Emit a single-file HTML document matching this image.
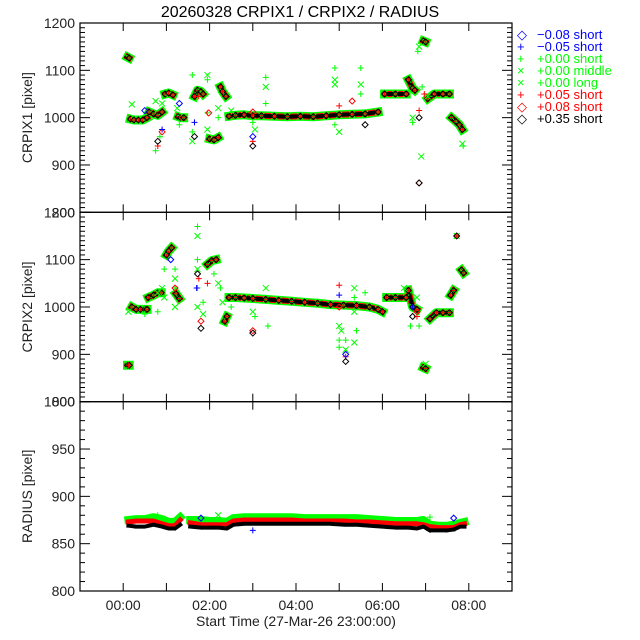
<!DOCTYPE html>
<html><head><meta charset="utf-8"><style>
html,body{margin:0;padding:0;background:#fff;}
svg{display:block;font-family:"Liberation Sans",sans-serif;}
</style></head><body>
<svg id="chart" width="640" height="640" viewBox="0 0 640 640">
<text x="300" y="17" font-size="16" text-anchor="middle">20260328 CRPIX1 / CRPIX2 / RADIUS</text>
<g id="legend"></g>
<g id="plots"></g>
</svg>
<script>
// ---- data ----
const xTickHours = [0,1,2,3,4,5,6,7,8];
const xTickLabels = ["00:00","","02:00","","04:00","","06:00","","08:00"];

const t1 = [0.10,0.14,null,0.17,0.25,0.35,0.45,0.55,null,0.6,0.7,0.8,0.9,null,0.97,1.05,1.15,null,1.27,1.33,1.4,null,1.65,1.72,1.8,1.85,null,2.0,2.1,2.2,null,2.25,2.3,2.38,null,2.45,2.6,2.8,3.0,3.2,3.5,3.8,4.1,4.4,4.7,5.0,5.3,5.6,5.9,null,6.05,6.3,6.55,null,6.6,6.7,6.75,null,6.95,7.0,null,7.05,7.2,7.4,7.55,null,7.6,7.7,7.78,7.85];
const v1 = [1128,1126,null,997,995,995,995,1000,null,1012,1008,1005,1012,null,1050,1052,1048,null,1002,1000,1000,null,1045,1058,1055,1050,null,955,953,958,null,1065,1055,1045,null,1003,1005,1006,1004,1004,1003,1002,1003,1002,1004,1006,1007,1008,1012,null,1050,1050,1050,null,1080,1062,1058,null,1162,1160,null,1040,1050,1050,1050,null,1000,992,985,975];
const o1t = [0.2,0.75,0.75,0.85,0.9,1.3,1.25,1.6,1.6,1.6,1.95,1.95,1.95,1.95,2.2,2.2,2.5,3.0,3.05,3.3,3.3,3.3,4.9,4.9,4.9,4.9,5.0,5.5,5.5,5.5,6.7,6.7,6.9,6.92,7.85,7.87,7.05,6.82,6.85, 0.8,0.9,1.75,1.98,3.0,3.0,5.0,5.3,6.85,6.85,6.97, 0.8,1.65,3.0,5.6,6.85,6.85, 0.5,0.9,1.3,1.65,3.0];
const o1v = [1028,930,1035,960,1030,985,1020,1090,950,970,1090,1080,975,1010,1020,1000,1015,990,975,1085,1065,1030,1070,1105,1080,985,970,1105,1070,1050,1000,990,918,1065,945,940,1045,1140,1150, 940,970,1045,1010,950,1012,1025,1035,1015,862,1050, 950,960,940,985,1000,862, 1015,975,1030,990,960];
const o1c = "gggggggggggggggggggggggggggggggggggggggrrrrrrrrrrrkkkkkkbbbbb";

const t2 = [0.1,0.14,null,0.2,0.3,0.4,0.5,0.55,null,0.58,0.7,0.8,0.88,null,1.0,1.05,1.12,null,1.22,1.3,null,1.95,2.05,2.15,null,2.35,2.4,null,2.45,2.6,2.8,3.0,3.3,3.6,3.9,4.2,4.5,4.8,5.1,5.4,5.7,5.9,6.0,null,6.1,6.3,6.55,null,6.6,6.7,6.8,null,6.95,7.0,null,7.1,7.25,7.4,7.55,null,7.58,7.65,null,7.72,null,7.83,7.88];
const v2 = [877,877,null,1000,995,995,995,995,null,1020,1025,1030,1030,null,1110,1118,1125,null,1028,1018,null,1090,1098,1100,null,970,980,null,1020,1020,1019,1018,1016,1014,1012,1010,1008,1005,1004,1003,1000,995,990,null,1020,1020,1020,null,1035,1000,995,null,872,870,null,975,988,988,988,null,1025,1035,null,1150,null,1078,1072];
const o2t = [0.12,0.5,0.8,0.8,0.9,0.95,0.95,1.2,1.2,1.2,1.2,1.72,1.72,1.72,1.72,1.72,1.72,1.85,1.85,2.1,2.2,2.25,2.3,2.5,3.0,3.05,3.3,3.35,5.0,5.0,5.05,5.0,5.15,5.15,5.35,5.35,5.35,5.4,5.35,5.6,6.5,6.65,6.8,6.85,7.0, 0.12,1.2,1.75,1.8,1.95,3.0,5.0,5.0,5.15,6.8,6.8, 1.72,1.8,3.0,6.7,5.15, 5.0,5.15,1.7,1.1,6.7];
const o2v = [990,985,1030,990,1040,1080,1020,1080,1060,1040,1000,1170,1150,1100,1080,1040,1000,1010,985,1070,1050,1040,1010,1000,990,980,1040,960,960,930,950,915,910,930,1040,1020,990,950,925,1030,1040,960,1020,960,880, 877,1040,1060,970,1050,950,1046,1000,895,990,980, 1070,955,945,980,885, 1025,900,1040,1100,1000];
const o2c = "gggggggggggggggggggggggggggggggggggggggggggggrrrrrrrrrrrkkkkkbbbbb";

const t3 = [0.12,0.3,0.5,0.7,0.9,1.05,1.2,1.32,null,1.55,1.8,2.0,2.2,2.4,2.55,2.8,3.0,3.3,3.6,3.9,4.2,4.5,4.8,5.1,5.4,5.7,6.0,6.3,6.6,6.8,6.95,7.1,7.3,7.5,7.65,7.8,7.9];
const r3k = [869,868,868,870,868,866,866,870,null,868,867,867,867,866,870,871,871,871,871,871,871,871,871,870,870,869,868,867,867,866,868,864,864,864,865,868,868];
const r3r = [873,874,874,874,871,869,869,875,null,872,870,870,870,870,874,875,875,875,875,875,874,874,874,874,873,873,872,871,871,871,870,868,867,867,867,870,871];
const r3g = [875,876,876,878,876,873,873,878,null,875,875,874,874,873,877,878,878,878,878,878,877,877,877,877,877,876,875,874,874,874,875,870,869,869,870,872,873];
const o3t = [1.8,3.0,7.65,0.8,2.2,7.1];
const o3v = [877,864,877,880,880,878];
const o3c = "bbbggg";

const legendSym = ["◇","+","+","×","×","+","◇","◇"];
const legendText = ["−0.08 short","−0.05 short","+0.00 short","+0.00 middle","+0.00 long","+0.05 short","+0.08 short","+0.35 short"];
const legendCol = ["#0000ff","#0000ff","#00ff00","#00ff00","#00ff00","#ff0000","#ff0000","#000000"];

// ---- layout ----
const NS="http://www.w3.org/2000/svg";
const L=80, R=512, X0=-1, X1=9;
const panels=[
 {top:23,bot:212.3,min:800,max:1200,major:100,minor:10,title:"CRPIX1 [pixel]",name:"crpix1"},
 {top:212.3,bot:401.7,min:800,max:1200,major:100,minor:10,title:"CRPIX2 [pixel]",name:"crpix2"},
 {top:401.7,bot:591,min:800,max:1000,major:50,minor:10,title:"RADIUS [pixel]",name:"radius"}];
const xs=h=>L+(h-X0)/(X1-X0)*(R-L);
const plots=document.getElementById('plots');
function mk(tag,attrs,parent){const e=document.createElementNS(NS,tag);for(const k in attrs)e.setAttribute(k,attrs[k]);(parent||plots).appendChild(e);return e;}
const COL={g:"#00ff00",r:"#ff0000",k:"#000000",b:"#0000ff"};

function band(p,ts,vs,color,w,dash,name){
  const ys=v=>p.bot-(v-p.min)/(p.max-p.min)*(p.bot-p.top);
  let d="",start=true;
  for(let i=0;i<ts.length;i++){
    if(ts[i]===null||vs[i]===null){start=true;continue;}
    d+=(start?"M":"L")+xs(ts[i]).toFixed(1)+" "+ys(vs[i]).toFixed(1)+" ";start=false;
  }
  const e=mk('path',{d:d,fill:"none",stroke:color,"stroke-width":w,"stroke-linecap":"square","stroke-linejoin":"round"});
  if(dash)e.setAttribute('stroke-dasharray',dash);
  
  
}
function marker(p,t,v,c,shape){
  const ys=v=>p.bot-(v-p.min)/(p.max-p.min)*(p.bot-p.top);
  const x=xs(t),y=ys(v),s=3;let d;
  if(shape==="x")d=`M${x-s} ${y-s}L${x+s} ${y+s}M${x-s} ${y+s}L${x+s} ${y-s}`;
  else if(shape==="+")d=`M${x-s} ${y}L${x+s} ${y}M${x} ${y-s}L${x} ${y+s}`;
  else d=`M${x} ${y-s}L${x+s} ${y}L${x} ${y+s}L${x-s} ${y}Z`;
  const e=mk('path',{d:d,fill:"none",stroke:COL[c],"stroke-width":1});
  
  
}
function mainSeries(p,ts,vs){
  band(p,ts,vs,"#00ff00",9,null,p.name+"-series-green");
  band(p,ts,vs,"#ff0000",6,null,p.name+"-series-red");
  band(p,ts,vs,"#000000",4,"2 3",p.name+"-series-black");
  for(let i=0;i<ts.length;i++){if(ts[i]===null)continue;
    marker(p,ts[i],vs[i],"g","x");marker(p,ts[i],vs[i],"r","+");marker(p,ts[i],vs[i],"k","d");}
}
function outliers(p,ts,vs,cs){
  for(let i=0;i<ts.length;i++){const c=cs[i];
    marker(p,ts[i],vs[i],c,c==="g"?(i%2?"+":"x"):(c==="r"||c==="b")&&i%2?"+":"d");}
}

panels.forEach((p,pi)=>{
  const ys=v=>p.bot-(v-p.min)/(p.max-p.min)*(p.bot-p.top);
  const g=mk('g',{});
  
  
  for(let v=p.min;v<=p.max+0.01;v+=p.minor){
    const major=Math.abs((v-p.min)%p.major)<0.01;const len=major?10:5;const y=ys(v);
    mk('line',{x1:L,x2:L+len,y1:y,y2:y,stroke:"#000"},g);
    mk('line',{x1:R,x2:R-len,y1:y,y2:y,stroke:"#000"},g);
    if(major){const t=mk('text',{x:L-5,y:y+5,"font-size":14,"text-anchor":"end",fill:"#222"},g);t.textContent=v;
      
      }
  }
  xTickHours.forEach((h,i)=>{const x=xs(h);
    mk('line',{x1:x,x2:x,y1:p.bot,y2:p.bot-8,stroke:"#000"},g);
    mk('line',{x1:x,x2:x,y1:p.top,y2:p.top+8,stroke:"#000"},g);
    if(pi===2&&xTickLabels[i]){const t=mk('text',{x:x,y:610,"font-size":14,"text-anchor":"middle",fill:"#222"},g);t.textContent=xTickLabels[i];
      
      }
  });
  const yt=mk('text',{x:0,y:0,"font-size":14,"text-anchor":"middle",fill:"#222",transform:`translate(32,${(p.top+p.bot)/2}) rotate(-90)`},g);
  yt.textContent=p.title;
  
  
});
mainSeries(panels[0],t1,v1);outliers(panels[0],o1t,o1v,o1c);
mainSeries(panels[1],t2,v2);outliers(panels[1],o2t,o2v,o2c);
band(panels[2],t3,r3g,"#00ff00",8,null,"radius-series-green");
band(panels[2],t3,r3r,"#ff0000",5,null,"radius-series-red");
band(panels[2],t3,r3k,"#000000",4,"2 2","radius-series-black");
outliers(panels[2],o3t,o3v,o3c);
panels.forEach(p=>{const b=mk('rect',{x:L,y:p.top,width:R-L,height:p.bot-p.top,fill:"none",stroke:"#000","stroke-width":1.2});
  
  });
const xt=mk('text',{x:296,y:626,"font-size":14,"text-anchor":"middle",fill:"#222"});
xt.textContent="Start Time (27-Mar-26 23:00:00)";


const lg=document.getElementById('legend');
legendText.forEach((s,i)=>{const y=39+i*12;
  const a=mk('text',{x:517,y:y,"font-size":13,fill:legendCol[i]},lg);a.textContent=legendSym[i];
  
  
  const b=mk('text',{x:537,y:y,"font-size":13,fill:legendCol[i]},lg);b.textContent=s;
  
  
});
</script>
</body></html>
